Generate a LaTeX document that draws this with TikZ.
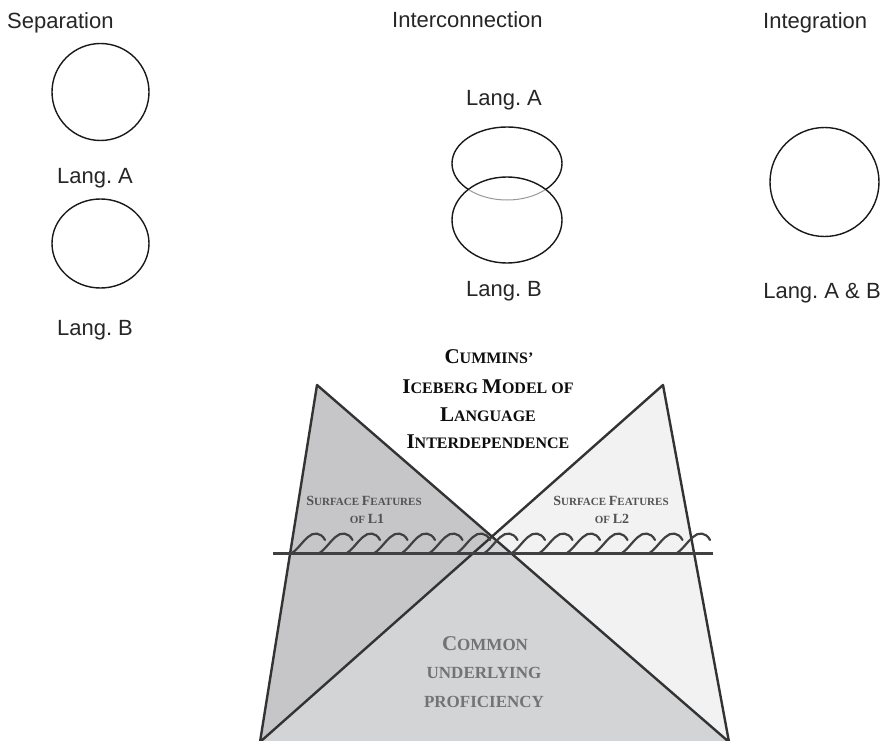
\documentclass[tikz,border=0pt]{standalone}
\usepackage{fontspec}
\setmainfont{Liberation Serif}
\newfontfamily\labfont{Liberation Sans}
\frenchspacing
\definecolor{lgray}{RGB}{198,198,200}
\definecolor{mgray}{RGB}{211,212,214}
\definecolor{pgray}{RGB}{242,242,243}
\newcommand\Tbig[1]{{\fontsize{21}{21}\selectfont #1}}
\newcommand\Sbig[1]{{\fontsize{14}{14}\selectfont #1}}
\newcommand\Cbig[1]{{\fontsize{21}{21}\selectfont #1}}
\tikzset{
 lab/.style={font=\labfont\fontsize{22}{22}\selectfont, text=black!85, inner sep=0pt, anchor=base},
 ttl/.style={font=\bfseries\fontsize{16}{16}\selectfont, text=black!95, inner sep=0pt, anchor=base},
 sfl/.style={font=\bfseries\fontsize{11}{11}\selectfont, text=black!68, inner sep=0pt, anchor=base},
 cul/.style={font=\bfseries\fontsize{17}{17}\selectfont, text=black!55, inner sep=0pt, anchor=base},
 ring/.style={draw=black!90, line width=1.4pt},
 bergline/.style={draw=black!80, line width=2.4pt, line join=round, line cap=round},
 wave/.style={draw=black!75, line width=2.2pt, line cap=round}
}
\begin{document}
\frenchspacing
\begin{tikzpicture}[x=1pt,y=-1pt]
\useasboundingbox (0,0) rectangle (884,741);
% top labels
\node[lab, anchor=base west] (sep) at (7,29) {Separation};
\node[lab, anchor=base west] (inter) at (392,28) {Interconnection};
\node[lab, anchor=base west] (integ) at (763,29) {Integration};
% separation
\draw[ring] (100.5,92) ellipse [x radius=48.5pt, y radius=48.5pt];
\node[lab] (la1) at (95,183) {Lang. A};
\draw[ring] (100.5,243.5) ellipse [x radius=48.5pt, y radius=44.5pt];
\node[lab] (lb1) at (95,335) {Lang. B};
% interconnection
\node[lab] (la2) at (504,106) {Lang. A};
\draw[ring] (507,163.5) ellipse [x radius=55pt, y radius=36.5pt];
\begin{scope}
\clip (507,220) ellipse [x radius=55pt, y radius=43pt];
\draw[white, line width=3pt] (507,163.5) ellipse [x radius=55pt, y radius=36.5pt];
\draw[black!40, line width=1pt] (507,163.5) ellipse [x radius=55pt, y radius=36.5pt];
\end{scope}
\draw[ring] (507,220) ellipse [x radius=55pt, y radius=43pt];
\node[lab] (lb2) at (504,296) {Lang. B};
% integration
\draw[ring] (824.5,182) ellipse [x radius=54.5pt, y radius=54.5pt];
\node[lab] (lab3) at (822,298) {Lang. A \& B};
% iceberg
\coordinate (LA) at (317,385);
\coordinate (RA) at (663,385);
\coordinate (BL) at (260,742);
\coordinate (BR) at (729,742);
\coordinate (X) at (492,536);
\fill[lgray] (LA) -- (X) -- (BL) -- cycle;
\fill[pgray] (RA) -- (BR) -- (X) -- cycle;
\fill[mgray] (X) -- (BL) -- (BR) -- cycle;
\draw[bergline] (BL) -- (LA) -- (BR);
\draw[bergline] (BR) -- (RA) -- (BL);
% water line and waves
\coordinate (W1) at (273,553);
\coordinate (W2) at (713,553);
\draw[draw=black!75, line width=3pt] (W1) -- (W2);
\foreach \i in {0,...,14}{
  \pgfmathsetmacro\c{312+27.5*\i}
  \draw[wave] (\c-20,553) .. controls (\c-14,549) and (\c-9,541) .. (\c-4,537) .. controls (\c+1,532) and (\c+9,532) .. (\c+13,540);
}
% texts
\node[ttl] (t1) at (489,363) {\Tbig{C}UMMINS'};
\node[ttl] (t2) at (488,393) {\Tbig{I}CEBERG \Tbig{M}ODEL OF};
\node[ttl] (t3) at (488,421) {\Tbig{L}ANGUAGE};
\node[ttl] (t4) at (488,448) {\Tbig{I}NTERDEPENDENCE};
\node[sfl] (s1) at (364,505) {\Sbig{S}URFACE \Sbig{F}EATURES};
\node[sfl] (s2) at (367,523) {OF \Sbig{L1}};
\node[sfl] (s3) at (611,505) {\Sbig{S}URFACE \Sbig{F}EATURES};
\node[sfl] (s4) at (612,523) {OF \Sbig{L2}};
\node[cul] (c1) at (485,650) {\Cbig{C}OMMON};
\node[cul] (c2) at (484,678) {UNDERLYING};
\node[cul] (c3) at (484,707) {PROFICIENCY};
\end{tikzpicture}
\end{document}
